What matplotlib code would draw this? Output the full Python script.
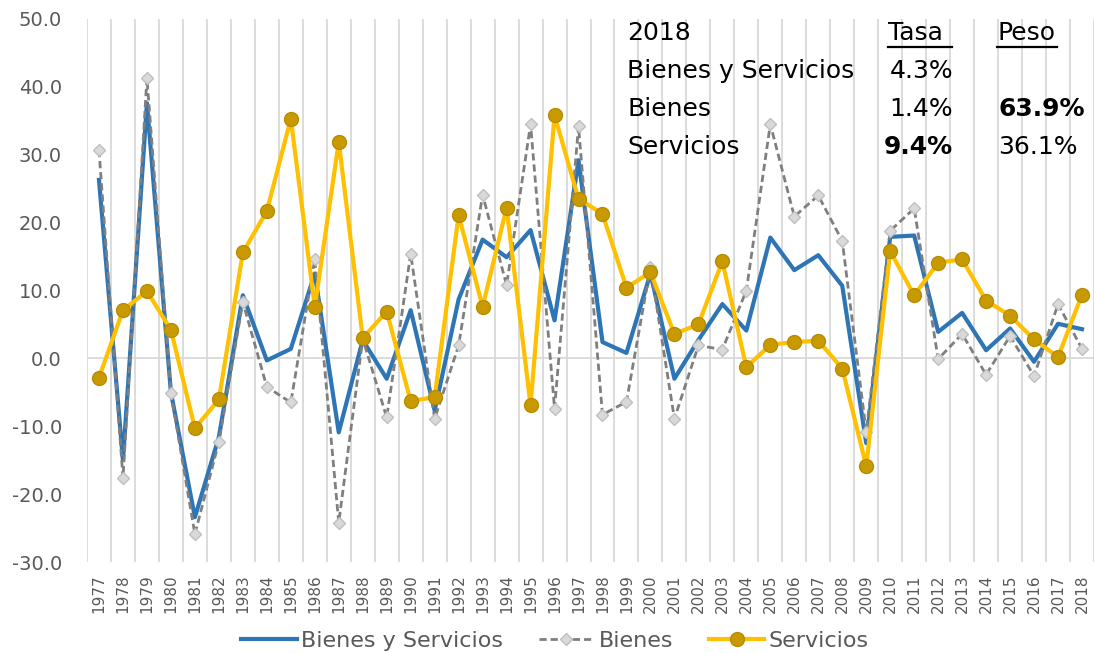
import matplotlib.pyplot as plt
from matplotlib.lines import Line2D
import numpy as np

years = list(range(1977, 2019))
bys = [26.3, -15.0, 37.6, -5.0, -23.4, -11.6, 9.3, -0.3, 1.4, 12.5,
       -10.9, 2.7, -3.0, 7.1, -7.7, 8.7, 17.5, 14.9, 18.9, 5.6,
       29.2, 2.4, 0.8, 12.5, -3.0, 2.7, 8.0, 4.1, 17.8, 13.0,
       15.2, 10.7, -12.5, 17.9, 18.1, 3.9, 6.7, 1.2, 4.4, -0.5,
       5.1, 4.3]
bienes = [30.7, -17.6, 41.3, -5.1, -25.9, -12.3, 8.3, -4.2, -6.5, 14.6,
          -24.2, 2.9, -8.7, 15.4, -8.9, 1.9, 24.1, 10.8, 34.5, -7.4,
          34.2, -8.3, -6.4, 13.5, -8.9, 1.9, 1.3, 10.0, 34.5, 20.9,
          24.0, 17.3, -10.8, 18.8, 22.1, -0.1, 3.6, -2.4, 3.3, -2.6,
          8.0, 1.4]
servicios = [-2.85, 7.1, 9.9, 4.2, -10.3, -6.05, 15.6, 21.7, 35.3, 7.6,
             31.9, 3.0, 6.9, -6.3, -5.7, 21.1, 7.6, 22.2, -6.9, 35.8,
             23.5, 21.3, 10.4, 12.7, 3.6, 5.0, 14.3, -1.3, 2.0, 2.4,
             2.6, -1.5, -15.9, 15.8, 9.3, 14.1, 14.6, 8.5, 6.3, 2.8,
             0.2, 9.4]

# tabla 2018
filas = ["Bienes y Servicios", "Bienes", "Servicios"]
tasa = ["4.3%", "1.4%", "9.4%"]
peso = ["", "63.9%", "36.1%"]

W, H = 1094, 653
fig = plt.figure(figsize=(W / 100, H / 100), dpi=100)
ax = fig.add_axes([87 / W, 91 / H, 1 - 87 / W, (562 - 19) / H])

x = np.arange(len(years))
ax.plot(x, bys, color="#2E75B6", lw=3.0, label="Bienes y Servicios", zorder=3)
ax.plot(x, bienes, color="#7F7F7F", lw=2.0, ls=(0, (2.6, 1.4)), marker="D",
        ms=6, mfc="#D9D9D9", mec="#BFBFBF", mew=1, label="Bienes", zorder=4)
ax.plot(x, servicios, color="#FFC000", lw=3.0, marker="o", ms=10,
        mfc="#C99A00", mec="#B88C00", mew=1, label="Servicios", zorder=5)

ax.set_xlim(-0.5, 41.2)
ax.set_ylim(-30, 50)
ax.set_yticks(np.arange(-30, 51, 10))
ax.set_yticklabels([f"{v:.1f}" for v in np.arange(-30, 51, 10)])
ax.set_xticks(x)
ax.set_xticklabels([str(y) for y in years], rotation=90)
ax.set_xticks(np.arange(len(years) + 1) - 0.5, minor=True)
ax.grid(True, which="minor", axis="x", color="#D9D9D9", lw=1.3)
ax.axhline(0, color="#D9D9D9", lw=1.3, zorder=1)
ax.tick_params(axis="both", which="both", length=0)
ax.tick_params(axis="y", labelsize=14, labelcolor="#595959", pad=18)
ax.tick_params(axis="x", labelsize=11, labelcolor="#595959", pad=9)
for s in ax.spines.values():
    s.set_visible(False)

leg = fig.legend(loc="center", bbox_to_anchor=(555 / W, 1 - 641 / H), ncol=3,
                 frameon=False, fontsize=16, handlelength=2.5,
                 handletextpad=0.2, columnspacing=1.6)
for t in leg.get_texts():
    t.set_color("#595959")

# cuadro de texto
def fy(py):
    return 1 - py / H

fig.text(627 / W, fy(33), "2018", fontsize=18, va="center")
fig.text(888 / W, fy(33), "Tasa", fontsize=18, va="center")
fig.text(997 / W, fy(33), "Peso", fontsize=18, va="center")
fig.add_artist(Line2D([888 / W, 952 / W], [fy(47), fy(47)], color="black", lw=1.6))
fig.add_artist(Line2D([997 / W, 1057 / W], [fy(47), fy(47)], color="black", lw=1.6))
for i, (nom, ta, pe) in enumerate(zip(filas, tasa, peso)):
    yy = fy(71 + 38 * i)
    fig.text(627 / W, yy, nom, fontsize=18, va="center")
    fig.text(953 / W, yy, ta, fontsize=18, va="center", ha="right",
             fontweight="bold" if nom == "Servicios" else "normal")
    fig.text(998 / W, yy, pe, fontsize=18, va="center",
             fontweight="bold" if nom == "Bienes" else "normal")

fig.savefig("out.png", dpi=100)
